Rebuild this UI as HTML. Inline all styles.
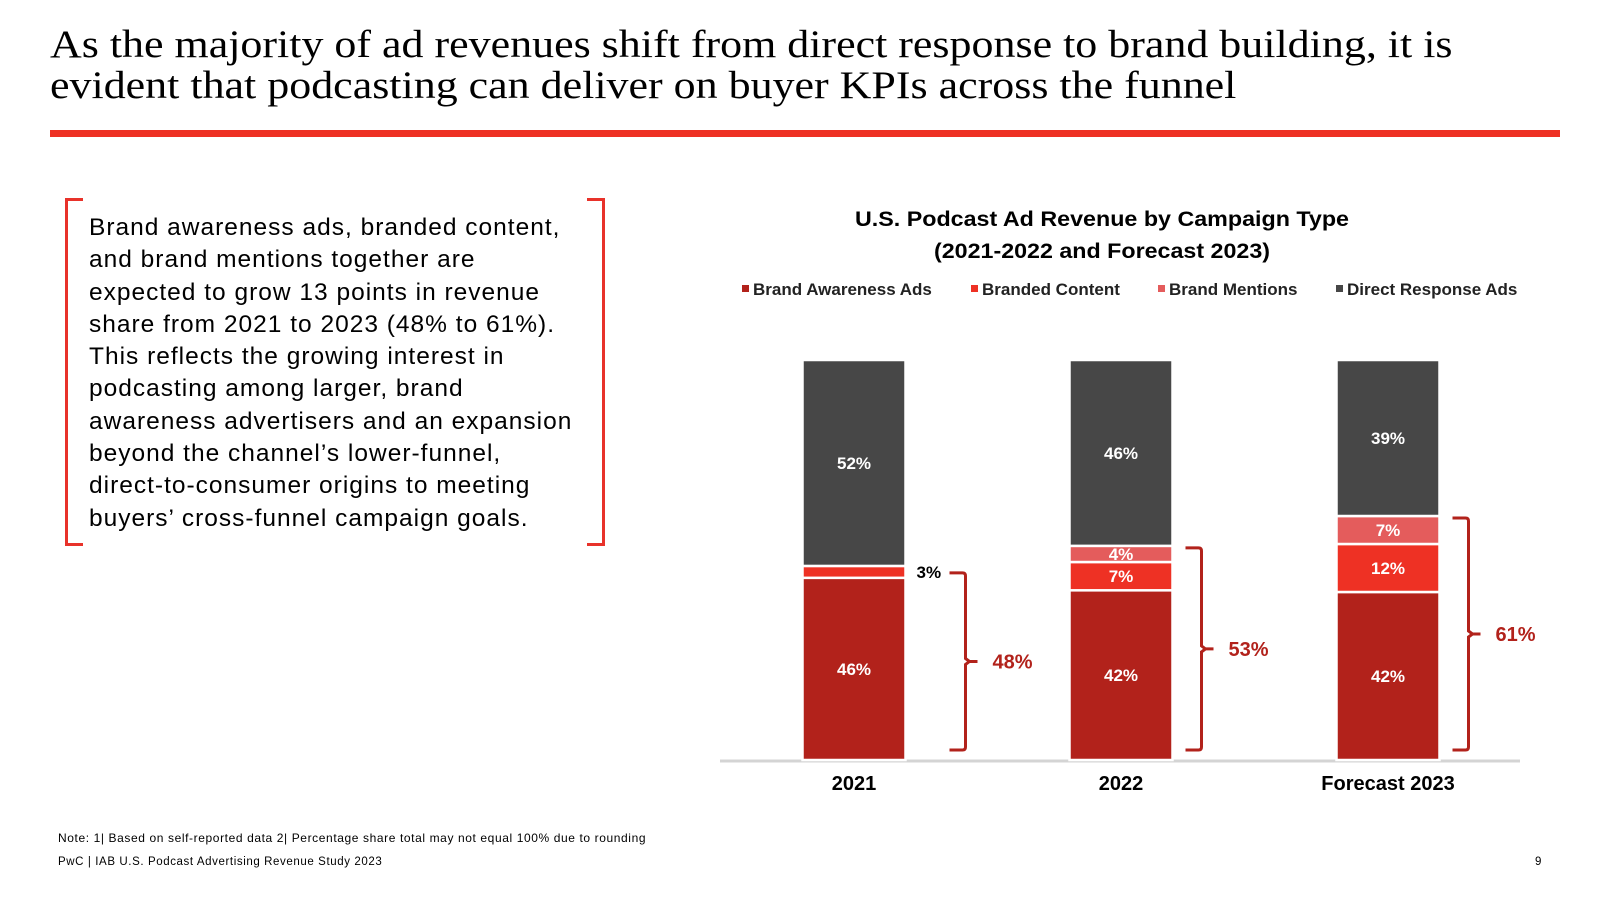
<!DOCTYPE html>
<html><head><meta charset="utf-8"><style>
html,body{margin:0;padding:0;background:#fff;}
body{width:1600px;height:900px;position:relative;overflow:hidden;font-family:"Liberation Sans",Arial,sans-serif;}
#title{position:absolute;left:50px;top:24px;font-family:"Liberation Serif",serif;font-size:39px;line-height:41px;color:#000;margin:0;font-weight:normal;white-space:nowrap;transform:scaleX(1.127);transform-origin:0 0;}
#rule{position:absolute;left:50px;top:130px;width:1510px;height:7px;background:#ee3124;}
#box{position:absolute;left:65px;top:198px;width:540px;height:348px;}
.br{position:absolute;width:18px;height:100%;border:3px solid #e8322a;box-sizing:border-box;top:0;}
.br.l{left:0;border-right:none;}
.br.r{right:0;border-left:none;}
#para{position:absolute;left:24px;top:14px;font-size:24.5px;line-height:32.3px;color:#000;white-space:nowrap;letter-spacing:1.0px;}
.note{position:absolute;left:58px;font-size:12px;color:#000;letter-spacing:0.6px;}
svg{position:absolute;left:0;top:0;}
</style></head><body>
<h1 id="title">As the majority of ad revenues shift from direct response to brand building, it is<br>evident that podcasting can deliver on buyer KPIs across the funnel</h1>
<div id="rule"></div>
<div id="box">
<div class="br l"></div>
<div class="br r"></div>
<div id="para">Brand awareness ads, branded content,<br>and brand mentions together are<br>expected to grow 13 points in revenue<br>share from 2021 to 2023 (48% to 61%).<br>This reflects the growing interest in<br>podcasting among larger, brand<br>awareness advertisers and an expansion<br>beyond the channel’s lower-funnel,<br>direct-to-consumer origins to meeting<br>buyers’ cross-funnel campaign goals.</div>
</div>
<div class="note" style="top:831px">Note: 1| Based on self-reported data 2| Percentage share total may not equal 100% due to rounding</div>
<div class="note" style="top:856px;font-size:11.5px">PwC | IAB U.S. Podcast Advertising Revenue Study 2023</div>
<div class="note" style="top:856px;left:1535px;font-size:11.5px">9</div>

<svg id="chart" width="1600" height="900"></svg>
<script>
const categories = ["2021", "2022", "Forecast 2023"];
const brandAwareness = [46, 42, 42];
const brandedContent = [3, 7, 12];
const brandMentions = [0, 4, 7];
const directResponse = [52, 46, 39];
const brandTotals = [48, 53, 61];
const seriesNames = ["Brand Awareness Ads", "Branded Content", "Brand Mentions", "Direct Response Ads"];

const NS = "http://www.w3.org/2000/svg";
const svg = document.getElementById("chart");
function mk(tag, attrs, parent){const e=document.createElementNS(NS,tag);for(const k in attrs)e.setAttribute(k,attrs[k]);(parent||svg).appendChild(e);return e;}
const colors = ["#b2221b","#ee3124","#e45c5c","#474747"];
const series = [brandAwareness, brandedContent, brandMentions, directResponse];
const plotTop = 360, plotBottom = 760, plotLeft = 720, plotRight = 1520;
const barW = 103;
function xCenter(i){return 854 + i*267;}
function yScale(v,total){return (plotBottom-plotTop)*v/total;}

let t = mk("text",{x:1102,y:226,"text-anchor":"middle","font-size":21,"font-weight":"bold","font-family":"Liberation Sans, sans-serif",fill:"#000",textLength:494,lengthAdjust:"spacingAndGlyphs"});
t.textContent="U.S. Podcast Ad Revenue by Campaign Type";


t = mk("text",{x:1102,y:258,"text-anchor":"middle","font-size":21,"font-weight":"bold","font-family":"Liberation Sans, sans-serif",fill:"#000",textLength:336,lengthAdjust:"spacingAndGlyphs"});
t.textContent="(2021-2022 and Forecast 2023)";



const legX = [742, 971, 1158, 1336];
seriesNames.forEach((n,i)=>{
  const g = mk("g",{});
  
  
  mk("rect",{x:legX[i],y:285,width:7,height:7,fill:colors[i]},g);
  const tx = mk("text",{x:legX[i]+11,y:295,"font-size":17,"font-weight":"bold","font-family":"Liberation Sans, sans-serif",fill:"#222"},g);
  tx.textContent=n;
});

const ax = mk("line",{x1:plotLeft,x2:plotRight,y1:plotBottom+1,y2:plotBottom+1,stroke:"#d4d4d4","stroke-width":3});



categories.forEach((c,i)=>{
  const total = series.reduce((s,a)=>s+a[i],0);
  let y = plotBottom;
  const cx = xCenter(i);
  let outsideY = null;
  series.forEach((arr,si)=>{
    const h = yScale(arr[i],total);
    if(h<=0) return;
    const r = mk("rect",{x:cx-barW/2,y:y-h,width:barW,height:h,fill:colors[si],stroke:"#fff","stroke-width":2.5});
    
    
    const mid = y-h/2;
    if(h>14){
      const lt = mk("text",{x:cx,y:mid+6,"text-anchor":"middle","font-size":17,"font-weight":"bold","font-family":"Liberation Sans, sans-serif",fill:"#fff"});
      lt.textContent=arr[i]+"%";
      
      
    } else {
      outsideY = mid;
      const lt = mk("text",{x:cx+barW/2+11,y:mid+6,"font-size":17,"font-weight":"bold","font-family":"Liberation Sans, sans-serif",fill:"#000"});
      lt.textContent=arr[i]+"%";
      
      
    }
    y -= h;
  });
  const brandSum = brandAwareness[i]+brandedContent[i]+brandMentions[i];
  const topY = outsideY!==null ? outsideY+1 : plotBottom - yScale(brandSum,total) + 2;
  const botY = plotBottom - 10;
  const bx = cx + barW/2 + (outsideY!==null ? 60 : 29);
  const midY = (topY+botY)/2;
  const p = mk("path",{d:`M${bx-16},${topY} L${bx-3},${topY} Q${bx},${topY} ${bx},${topY+3} L${bx},${midY-3} L${bx+4},${midY} L${bx+12},${midY} M${bx+4},${midY} L${bx},${midY+3} L${bx},${botY-3} Q${bx},${botY} ${bx-3},${botY} L${bx-16},${botY}`,fill:"none",stroke:"#b2221b","stroke-width":3});
  
  
  const bt = mk("text",{x:bx+27,y:midY+7,"font-size":20,"font-weight":"bold","font-family":"Liberation Sans, sans-serif",fill:"#b2221b"});
  bt.textContent=brandTotals[i]+"%";
  
  
  const cl = mk("text",{x:cx,y:790,"text-anchor":"middle","font-size":20,"font-weight":"bold","font-family":"Liberation Sans, sans-serif",fill:"#000"});
  cl.textContent=c;
  
  
});
</script>
</body></html>
